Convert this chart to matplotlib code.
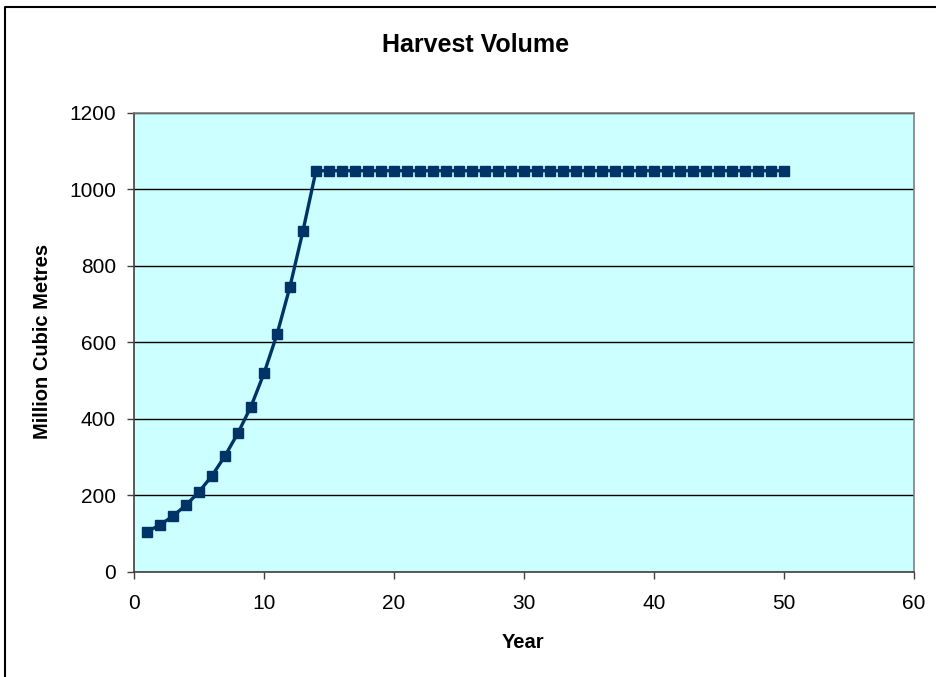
import matplotlib
matplotlib.use("Agg")
import matplotlib.pyplot as plt
from matplotlib.lines import Line2D

plt.rcParams['font.family'] = ['Liberation Sans', 'DejaVu Sans']

# harvest volume
years = list(range(1, 51))
growth = [105, 122, 146, 174, 209, 251, 303, 363, 432, 519, 621, 746, 892]
plateau = 1049
volume = growth + [plateau] * (len(years) - len(growth))

W, H = 936, 677
fig = plt.figure(figsize=(W / 100, H / 100), dpi=100)

# chart-area border (only top and left fall inside the image)
fig.lines.append(Line2D([5 / W, 5 / W, 1], [0, 1 - 7 / H, 1 - 7 / H],
                        transform=fig.transFigure, color='black',
                        linewidth=1.5))

ax = fig.add_axes([134 / W, (H - 571.7) / H, 780 / W, 458.7 / H])
ax.set_facecolor('#CCFFFF')

ax.plot(years, volume, color='#003366', linewidth=2.4, marker='s',
        markersize=6.8, markerfacecolor='#003366', markeredgecolor='#003366',
        zorder=3)

ax.set_xlim(0, 60)
ax.set_ylim(0, 1200)
ax.set_xticks(range(0, 61, 10))
ax.set_yticks(range(0, 1201, 200))
ax.yaxis.grid(True, color='black', linewidth=1)
ax.set_axisbelow(True)

for side in ['left', 'bottom']:
    ax.spines[side].set_color('#404040')
    ax.spines[side].set_linewidth(1.2)
for side in ['top', 'right']:
    ax.spines[side].set_color('#808080')
    ax.spines[side].set_linewidth(1.2)

ax.tick_params(direction='out', length=5, width=1, color='#404040',
               labelsize=15)
ax.tick_params(axis='x', pad=11)
ax.tick_params(axis='y', pad=8)

fig.text(475.7 / W, 1 - 52.3 / H, 'Harvest Volume', fontsize=18,
         fontweight='bold', ha='center', va='baseline')
fig.text(523 / W, 1 - 648.3 / H, 'Year', fontsize=14.5,
         fontweight='bold', ha='center', va='baseline')
fig.text(43 / W, 1 - 341.7 / H, 'Million Cubic Metres', fontsize=14.5,
         fontweight='bold', ha='center', va='center', rotation=90)

fig.savefig('out.png', dpi=100)
